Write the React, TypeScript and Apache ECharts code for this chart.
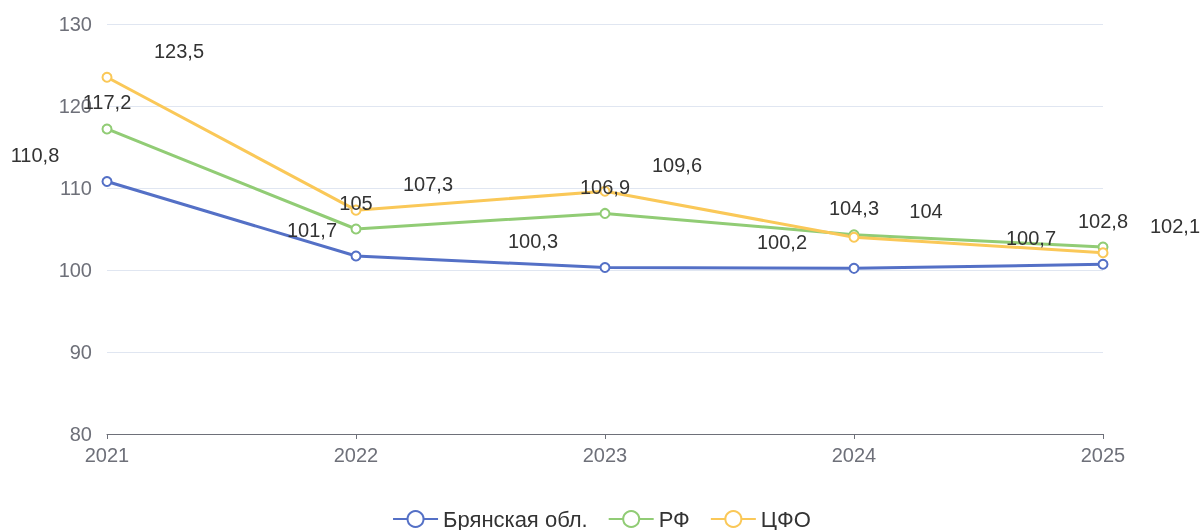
import React, { useEffect, useRef } from "react";
import * as echarts from "echarts";

const years = ["2021", "2022", "2023", "2024", "2025"];
const bryansk = [110.8, 101.7, 100.3, 100.2, 100.7];
const rf = [117.2, 105, 106.9, 104.3, 102.8];
const cfo = [123.5, 107.3, 109.6, 104, 102.1];
const seriesNames = ["Брянская обл.", "РФ", "ЦФО"];

const fmt = (v: number) => String(v).replace(".", ",");

export default function App() {
  const ref = useRef<HTMLDivElement>(null);
  useEffect(() => {
    document.body.style.margin = "0";
    document.body.style.overflow = "hidden";
    document.documentElement.style.overflow = "hidden";
    const chart = echarts.init(ref.current!, null, { renderer: "svg" });
    const font = "Liberation Sans, Arial, sans-serif";
    const mkSeries = (name: string, data: number[], color: string, offset: number[]) => ({
      name,
      type: "line",
      data: data.map((v, i) =>
        name === seriesNames[0] && i === 1
          ? { value: v, label: { offset: [-44, -6] } }
          : v
      ),
      symbol: "emptyCircle",
      symbolSize: 9,
      lineStyle: { width: 3, color },
      itemStyle: { color, borderWidth: 2 },
      label: {
        show: true,
        position: "top",
        offset,
        fontSize: 20,
        fontFamily: font,
        color: "#333",
        formatter: (p: any) => fmt(p.value),
      },
    });
    chart.setOption({
      animation: false,
      textStyle: { fontFamily: font },
      color: ["#5470c6", "#91cc75", "#fac858"],
      grid: { left: 107, right: 100, top: 24, bottom: 96, containLabel: false },
      legend: {
        bottom: -5,
        itemWidth: 45,
        itemHeight: 20,
        itemGap: 20,
        textStyle: { fontSize: 22, color: "#333", fontFamily: font },
        data: seriesNames,
      },
      xAxis: {
        type: "category",
        data: years,
        boundaryGap: false,
        axisLine: { lineStyle: { color: "#6E7079" } },
        axisTick: { alignWithLabel: true },
        axisLabel: { fontSize: 20, color: "#6E7079", margin: 11, fontFamily: font },
      },
      yAxis: {
        type: "value",
        min: 80,
        max: 130,
        interval: 10,
        axisLabel: { fontSize: 20, color: "#6E7079", margin: 15, fontFamily: font },
        splitLine: { lineStyle: { color: "#E0E6F1" } },
      },
      series: [
        mkSeries(seriesNames[0], bryansk, "#5470c6", [-72, -6]),
        mkSeries(seriesNames[1], rf, "#91cc75", [0, -6]),
        mkSeries(seriesNames[2], cfo, "#fac858", [72, -6]),
      ],
    });
    return () => chart.dispose();
  }, []);
  return <div ref={ref} style={{ position: "fixed", left: 0, top: 0, width: 1203, height: 530 }} />;
}
